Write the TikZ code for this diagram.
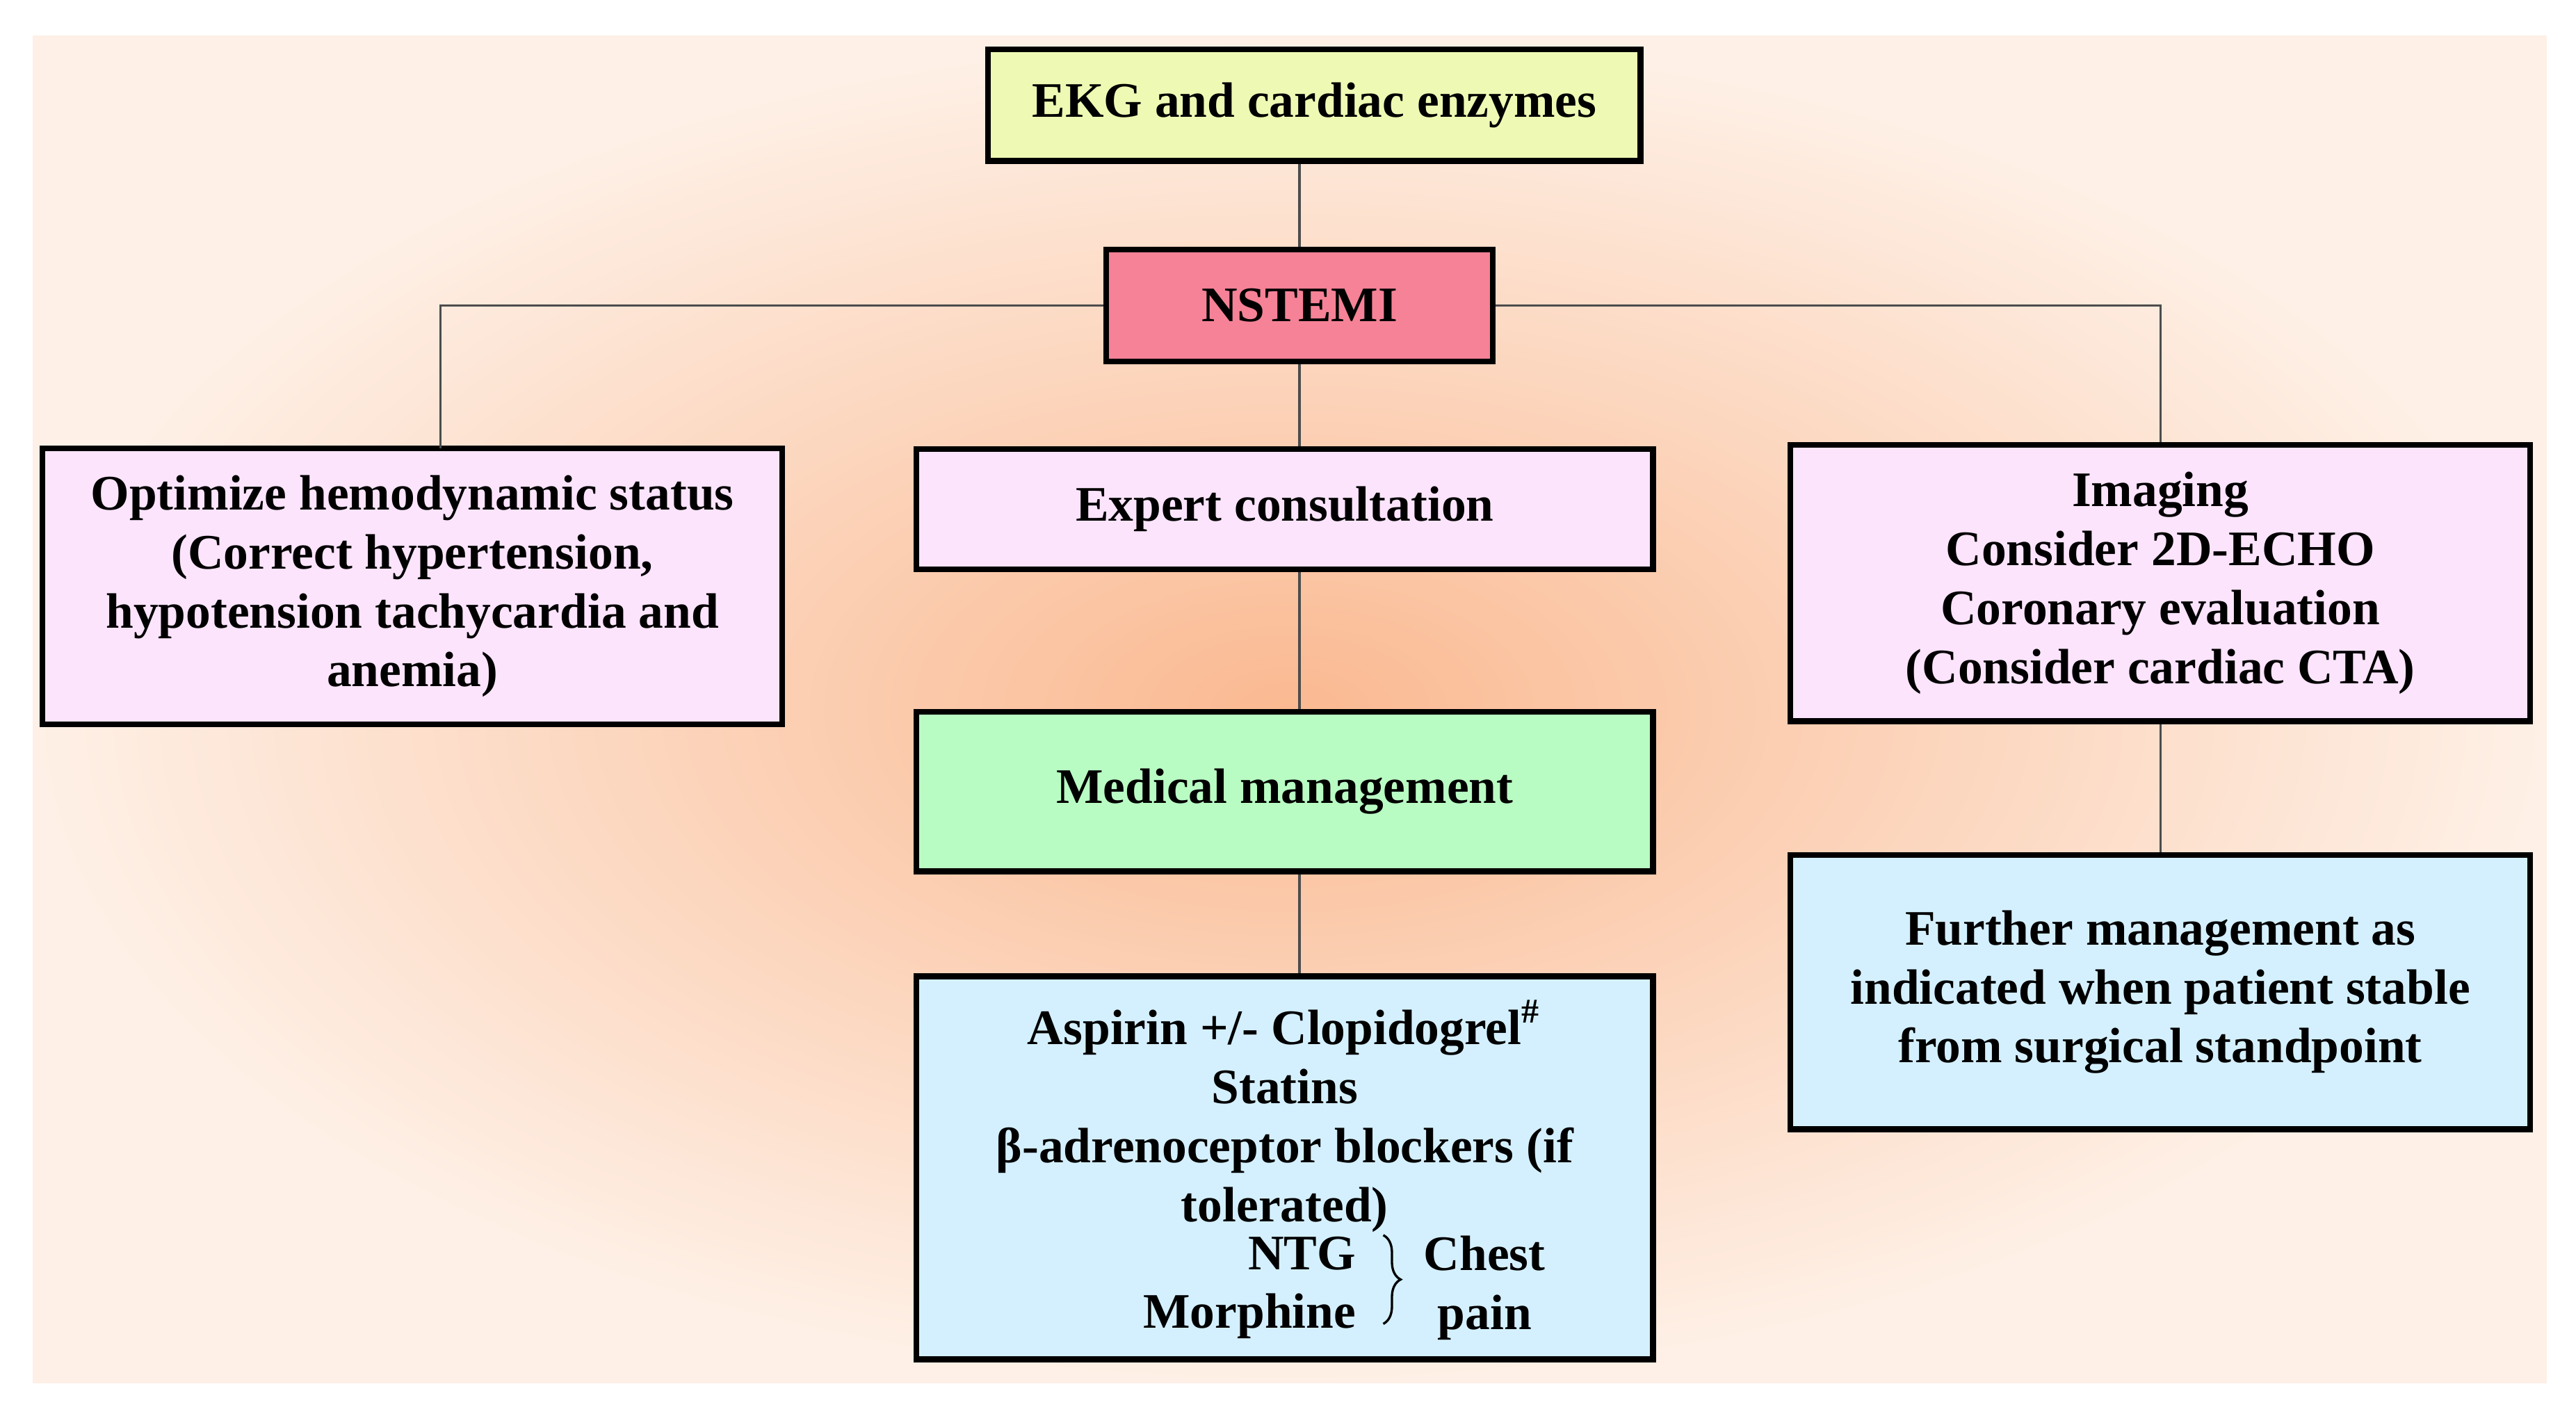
\documentclass[tikz,border=0pt]{standalone}
\usepackage{fontspec}
\setmainfont{Liberation Serif}
\usetikzlibrary{positioning,decorations.pathreplacing}
\definecolor{ekgcol}{RGB}{238,250,180}
\definecolor{nstcol}{RGB}{245,130,150}
\definecolor{pinkcol}{RGB}{252,228,252}
\definecolor{greencol}{RGB}{185,252,195}
\definecolor{bluecol}{RGB}{212,240,255}
\definecolor{peach}{RGB}{250,185,145}
\definecolor{lightpeach}{RGB}{254,240,230}
\tikzset{
  txt/.style={align=center,inner sep=0pt,
    font=\bfseries\fontsize{8.6}{10.2}\selectfont},
  box/.style={txt,draw=black,line width=1pt},
  link/.style={draw=black!70,line width=.4pt}
}
\begin{document}
\begin{tikzpicture}[x=0.01cm,y=-0.01cm]
\useasboundingbox (0,0) rectangle (1568,862);
\fill[white] (0,0) rectangle (1568,862);
\shade[inner color=peach,outer color=lightpeach] (20,22) rectangle (1550,842);
\node[box,fill=ekgcol,minimum width=3.97cm,minimum height=.68cm] (ekg) at (800,64) {EKG and cardiac enzymes};
\node[box,fill=nstcol,minimum width=2.35cm,minimum height=.68cm] (nst) at (791,186) {NSTEMI};
\node[box,fill=pinkcol,minimum width=4.5cm,minimum height=1.68cm] (opt) at (251,357)
  {Optimize hemodynamic status\\(Correct hypertension,\\hypotension tachycardia and\\anemia)};
\node[box,fill=pinkcol,minimum width=4.48cm,minimum height=.73cm] (exp) at (782,310) {Expert consultation};
\node[box,fill=pinkcol,minimum width=4.5cm,minimum height=1.68cm] (img) at (1315,355)
  {Imaging\\Consider 2D-ECHO\\Coronary evaluation\\(Consider cardiac CTA)};
\node[box,fill=greencol,minimum width=4.48cm,minimum height=.97cm] (med) at (782,482) {Medical management};
\node[box,fill=bluecol,minimum width=4.48cm,minimum height=2.33cm] (asp) at (782,711) {};
\node[txt,anchor=north] (asptxt) at (782,608)
  {Aspirin +/- Clopidogrel\textsuperscript{\#}\\Statins\\β-adrenoceptor blockers (if\\tolerated)};
\node[txt,align=right,anchor=east] (ntg) at (826,784) {NTG\\Morphine};
\draw[decorate,decoration={brace,amplitude=3pt},line width=.4pt] (842,752) -- (842,806);
\node[txt,anchor=west] (chest) at (866,784) {Chest\\pain};
\node[box,fill=bluecol,minimum width=4.5cm,minimum height=1.67cm] (fur) at (1315,604)
  {Further management as\\indicated when patient stable\\from surgical standpoint};
\coordinate (optin) at (268,273);
% connectors
\draw[link] (nst.north) -- (nst.north|-ekg.south);
\draw[link] (nst.west) -| (optin);
\draw[link] (nst.east) -| (img.north);
\draw[link] (nst.south) -- (nst.south|-exp.north);
\draw[link] (exp.south-|nst.south) -- (med.north-|nst.south);
\draw[link] (med.south-|nst.south) -- (asp.north-|nst.south);
\draw[link] (img) -- (fur);
\end{tikzpicture}
\end{document}
